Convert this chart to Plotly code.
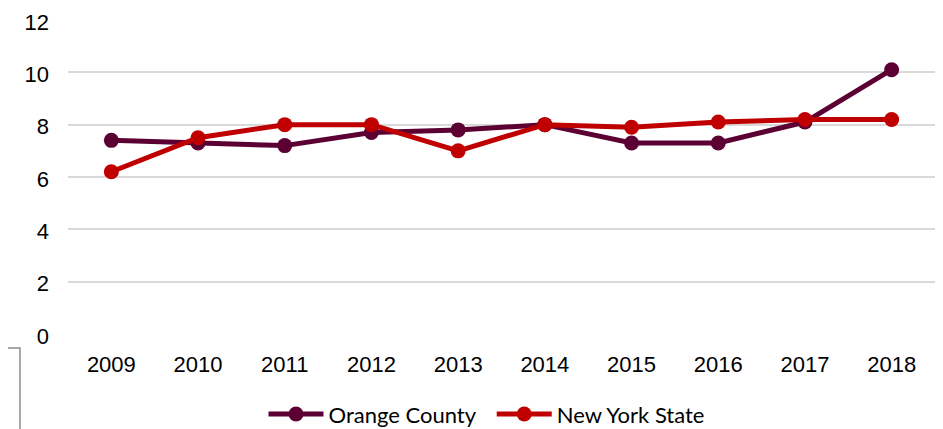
import plotly.graph_objects as go

years = ["2009", "2010", "2011", "2012", "2013", "2014", "2015", "2016", "2017", "2018"]
orange_county = [7.4, 7.3, 7.2, 7.7, 7.8, 8.0, 7.3, 7.3, 8.1, 10.1]
new_york_state = [6.2, 7.5, 8.0, 8.0, 7.0, 8.0, 7.9, 8.1, 8.2, 8.2]
y_ticks = [0, 2, 4, 6, 8, 10, 12]

fig = go.Figure()
fig.add_trace(go.Scatter(x=years, y=orange_county, name="Orange County\u00a0\u00a0", mode="lines+markers",
                         line=dict(color="#5C0033", width=5), marker=dict(size=15, color="#5C0033")))
fig.add_trace(go.Scatter(x=years, y=new_york_state, name="New York State", mode="lines+markers",
                         line=dict(color="#C00000", width=5), marker=dict(size=15, color="#C00000")))

fig.update_layout(
    width=935, height=421,
    margin=dict(l=60, r=8, t=12, b=95, autoexpand=False),
    paper_bgcolor="white", plot_bgcolor="white",
    font=dict(family="Liberation Sans", size=21, color="black"),
    showlegend=True,
    legend=dict(orientation="h", x=0.4827, xanchor="center", xref="paper", y=-0.2555, yanchor="middle",
                font=dict(family="Lato", size=22, color="black"),
                itemwidth=55, tracegroupgap=0),
    xaxis=dict(type="category", range=[-0.5, 9.5], showgrid=False, showline=False, zeroline=False,
               ticks="", ticklabelstandoff=15, tickfont=dict(family="Liberation Sans", size=22)),
    yaxis=dict(range=[0, 12], tickvals=y_ticks, showgrid=True, gridcolor="#D9D9D9", gridwidth=1.5,
               zeroline=False, showline=False, ticks="", ticklabelstandoff=18, ticklabeloverflow="allow",
               ticklabelshift=2, tickfont=dict(family="Liberation Sans", size=22)),
    shapes=[dict(type="rect", xref="paper", yref="paper", x0=-0.092, x1=-0.0554, y0=-0.0442, y1=-0.4,
                 line=dict(color="#8C8C8C", width=1.5), fillcolor="rgba(0,0,0,0)")],
)

fig.write_html("out.html")
